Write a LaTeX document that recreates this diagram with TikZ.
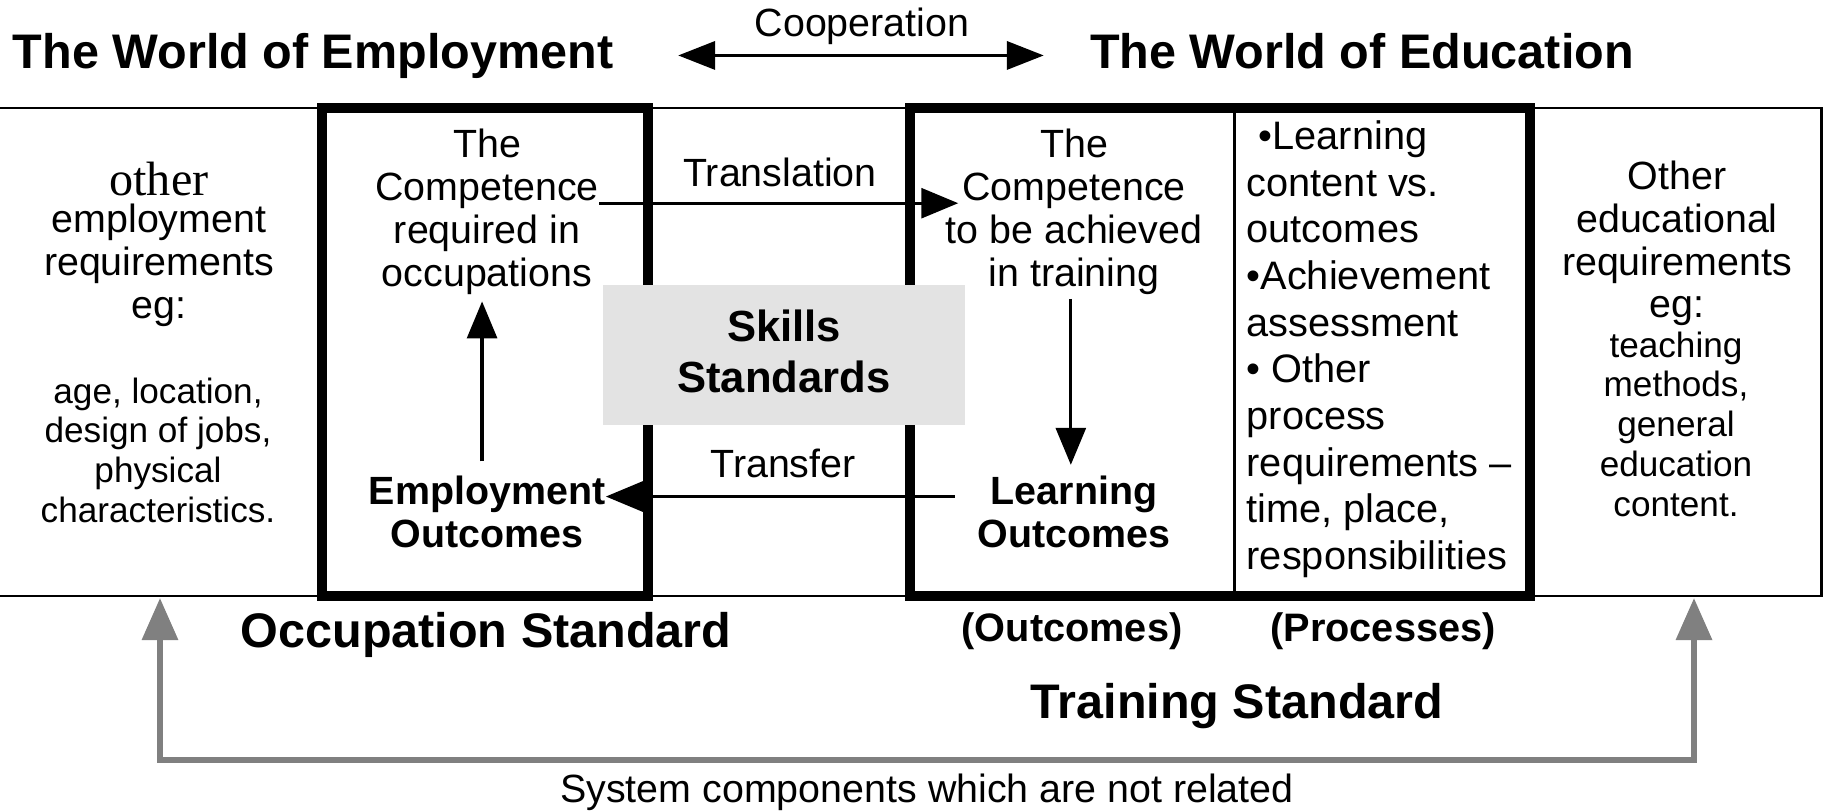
\documentclass[tikz,border=0pt]{standalone}
\usepackage{fontspec}
\setmainfont{Liberation Sans}
\newfontfamily\serifface{Liberation Serif}
\usetikzlibrary{arrows.meta}
\usetikzlibrary{positioning}
\newcommand{\txtsize}{\fontsize{11.2}{12.2}\selectfont}
\newcommand{\smalltxtsize}{\fontsize{10}{11.3}\selectfont}
\newcommand{\listsize}{\fontsize{11.3}{13.27}\selectfont}
\newcommand{\worldsize}{\fontsize{13.8}{16}\selectfont\bfseries}

\begin{document}
\begin{tikzpicture}[x=0.01cm, y=-0.01cm,
    every node/.style={inner sep=0pt},
    txt/.style={align=center, font=\txtsize},
    smalltxt/.style={align=center, font=\smalltxtsize},
    outtxt/.style={align=center, font=\txtsize\bfseries},
    worldtitle/.style={font=\worldsize},
    stdlabel/.style={font=\worldsize},
    colhead/.style={font=\fontsize{11.3}{13}\selectfont\bfseries},
    skillbox/.style={fill=black!11, minimum width=3.62cm, minimum height=1.4cm, text depth=2pt,
      align=center, font=\fontsize{12.4}{14.5}\selectfont\bfseries},
    thinframe/.style={line width=0.85pt},
    stdbox/.style={line width=2.85pt},
    arr/.style={-{Triangle[length=10.5pt,width=8.5pt]}, line width=0.9pt},
    dblarr/.style={{Triangle[length=10.5pt,width=8pt]}-{Triangle[length=10.5pt,width=8pt]}, line width=0.9pt},
    sysarr/.style={{Triangle[length=12pt,width=10pt]}-{Triangle[length=12pt,width=10pt]}, line width=1.8pt, draw=black!50}]
  \useasboundingbox (0,0) rectangle (1826,812);

  % frames
  \draw[thinframe] (0,108) -- (1821,108) -- (1821,596) -- (0,596);
  \draw[thinframe] (1234,108) -- (1234,596);
  \draw[stdbox] (322,108) rectangle (648,596);
  \draw[stdbox] (910,108) rectangle (1530,596);

  % titles
  \node[worldtitle, anchor=base] (emp-title) at (313,68) {The World of Employment};
  \node[worldtitle, anchor=base] (edu-title) at (1362,68) {The World of Education};
  \node[txt, anchor=base] (coop-label) at (862,37) {Cooperation};
  \draw[dblarr, shorten <=18.3pt, shorten >=13pt] (emp-title.east) -- (edu-title.west |- emp-title.east);

  \node[skillbox] (skills) at (784,355) {Skills\\Standards};

  % left column
  \node[anchor=base, font=\serifface\fontsize{13.7}{14}\selectfont] (other-word) at (159,195) {other};
  \node[txt, below=2pt of other-word] (emp-req) {employment\\requirements\\eg:};
  \node[smalltxt, anchor=north] (emp-eg) at (158,377) {age, location,\\design of jobs,\\physical\\characteristics.};

  % occupation standard
  \node[txt] (occ-top) at (487,212) {The\\Competence\\required in\\occupations};
  \node[outtxt] (emp-out) at (487,512) {Employment\\Outcomes};
  \draw[arr, shorten <=4pt, shorten >=1.7pt] ([xshift=-1.4pt]emp-out.north) -- ([xshift=-1.4pt]occ-top.south);

  % training standard
  \node[txt] (train-top) at (1074,212) {The\\Competence\\to be achieved\\in training};
  \node[outtxt] (learn-out) at (1074,512) {Learning\\Outcomes};
  \draw[arr, shorten <=1pt, shorten >=3pt] ([xshift=-0.9pt]train-top.south) -- ([xshift=-0.9pt]learn-out.north);

  \node[txt, anchor=base] (transl-label) at (780,186) {Translation};
  \draw[arr] ([yshift=2.5pt]occ-top.east) -- ([xshift=3.7pt,yshift=2.5pt]train-top.west);
  \node[txt, anchor=base] (transf-label) at (783,477) {Transfer};
  \draw[arr] ([xshift=-6.3pt,yshift=4.4pt]learn-out.west) -- ([yshift=4.4pt]emp-out.east);

  \node[anchor=north west, align=left, font=\listsize] (proc-list) at (1246,120)
    {\hspace*{3.4pt}•Learning\\content vs.\\outcomes\\•Achievement\\assessment\\• Other\\process\\requirements –\\time, place,\\responsibilities};

  % right column
  \node[txt, anchor=north] (edu-req) at (1677,160) {Other\\educational\\requirements\\eg:};
  \node[smalltxt, anchor=north] (edu-eg) at (1676,331) {teaching\\methods,\\general\\education\\content.};

  % labels below
  \node[stdlabel, anchor=base] (occ-std) at (486,647) {Occupation Standard};
  \node[colhead, anchor=base] (outc-head) at (1072,641) {(Outcomes)};
  \node[colhead, anchor=base] (proc-head) at (1383,641) {(Processes)};
  \node[stdlabel, anchor=base] (train-std) at (1237,718) {Training Standard};

  % unrelated components
  \node[txt, anchor=base] (sys-label) at (927,802) {System components which are not related};
  \coordinate (left-tip) at (160,598);
  \coordinate (right-tip) at (1694,598);
  \coordinate (sys-l) at (160,760);
  \coordinate (sys-r) at (1694,760);
  \draw[sysarr] (left-tip) -- (sys-l) -- (sys-r) -- (right-tip);
\end{tikzpicture}
\end{document}
